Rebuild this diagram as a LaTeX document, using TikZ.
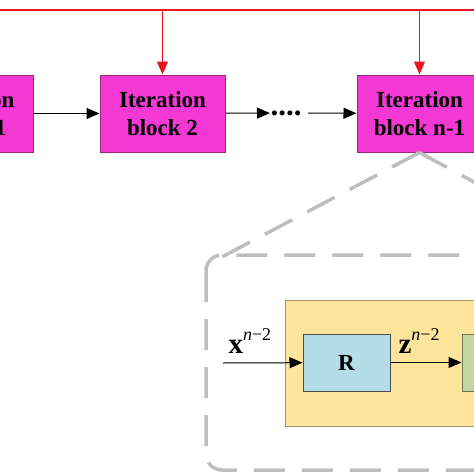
\documentclass[tikz,border=0pt]{standalone}
\usepackage{fontspec}
\setmainfont{Liberation Serif}
\usetikzlibrary{arrows.meta,positioning}
\definecolor{blockpink}{RGB}{243,56,212}
\definecolor{pinkedge}{RGB}{150,40,120}
\definecolor{modyellow}{RGB}{255,229,155}
\definecolor{yellowedge}{RGB}{170,150,100}
\definecolor{rblue}{RGB}{180,221,232}
\definecolor{sgreen}{RGB}{196,215,160}
\definecolor{sgreenedge}{RGB}{110,120,80}
\definecolor{feedred}{RGB}{232,22,28}
\definecolor{zoomgray}{RGB}{190,190,190}

\begin{document}
\begin{tikzpicture}[x=1pt,y=-1pt,>={Triangle[length=13pt,width=11pt]},line width=1pt,
    iter node/.style={draw=pinkedge,fill=blockpink,minimum width=125pt,minimum height=77pt,inner sep=0pt,align=center,font=\fontsize{23}{28}\selectfont\bfseries},
    sub node/.style={draw=black!70,minimum width=87pt,minimum height=57pt,inner sep=0pt,font=\fontsize{23}{28}\selectfont\bfseries},
    zoom line/.style={draw=zoomgray,line width=3.5pt,dash pattern=on 31pt off 17pt},
    var label/.style={anchor=base west,inner sep=0pt,font=\fontsize{29}{30}\selectfont\bfseries}]
    \useasboundingbox (0,0) rectangle (474,474);
    \clip (0,0) rectangle (474,474);

    \node[iter node] (1) at (-29,113.5) {Iteration\\block 1};
    \node[iter node] (2) at (162.5,113.5) {Iteration\\block 2};
    \node[inner sep=0pt,font=\fontsize{31}{31}\selectfont\bfseries] (dots) at (286,113) {....};
    \node[iter node] (3) at (419.5,113.5) {Iteration\\block n-1};

    \coordinate (t0) at (0,10);
    \coordinate (t1) at (474,10);
    \draw[feedred,line width=1.2pt] (t0) -- (t1);
    \draw[feedred,line width=1.2pt,->] (2 |- t0) -- (2);
    \draw[feedred,line width=1.2pt,->] (3 |- t0) -- (3);

    \draw[->] (1) -- (2);
    \draw[->] (2) -- (dots);
    \draw[->,shorten <=6pt] (dots) -- (3);

    \coordinate (zl) at (220,258);
    \coordinate (zr) at (614,258);
    \path[zoom line] (3.south) -- (zl);
    \path[zoom line] (3.south) -- (zr);
    \path[zoom line,rounded corners=16pt] (206,255) rectangle (640,470);

    \node[draw=yellowedge,fill=modyellow,minimum width=340pt,minimum height=126pt,inner sep=0pt] (mod) at (455,363) {};
    \node[sub node,fill=rblue] (r) at (346.5,362.5) {R};
    \node[sub node,fill=sgreen,draw=sgreenedge] (s) at (505.5,362.5) {};

    \coordinate (in) at (223,363);
    \draw[->] (in) -- (r);
    \draw[->] (r) -- (s);
    \node[var label] (x) at (228,353) {x\raisebox{13pt}{\fontsize{18}{18}\selectfont\mdseries\itshape n\upshape −2}};
    \node[var label] (z) at (398,353) {z\raisebox{13pt}{\fontsize{18}{18}\selectfont\mdseries\itshape n\upshape −2}};
\end{tikzpicture}
\end{document}
